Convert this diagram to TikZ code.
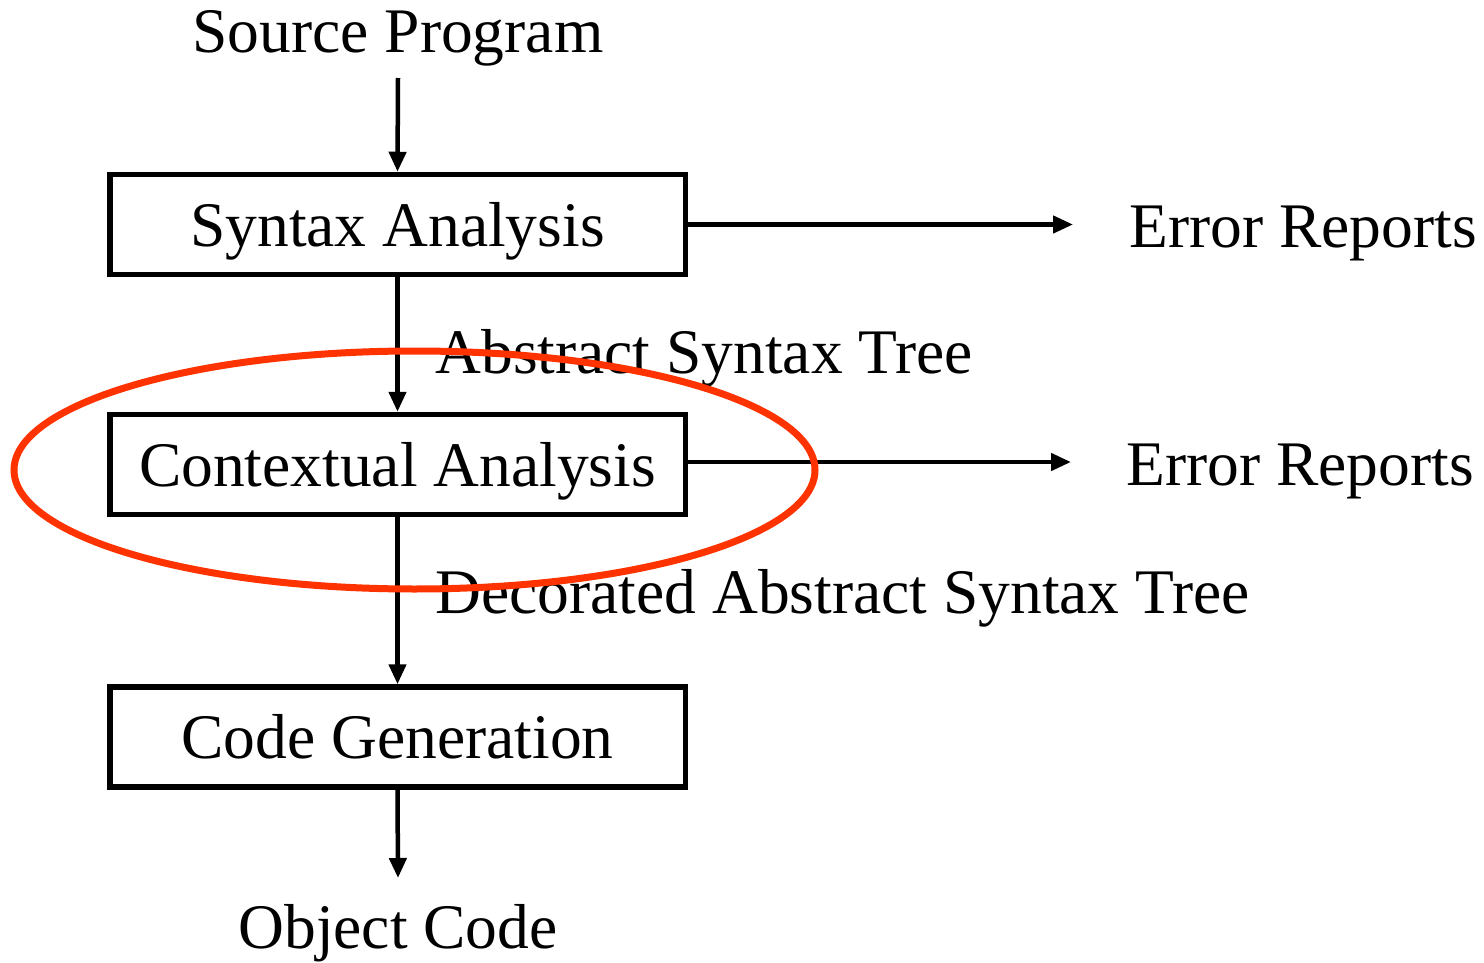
\documentclass[tikz,border=0pt]{standalone}
\usepackage{fontspec}
\setmainfont{Liberation Serif}
\usetikzlibrary{arrows.meta}
\definecolor{markred}{RGB}{255,51,0}
\begin{document}
\begin{tikzpicture}[x=0.5pt,y=-0.5pt,
  font=\fontsize{31.75pt}{38pt}\selectfont,
  phase/.style={draw,line width=2.75pt,inner sep=0pt,minimum width=287.75pt,
    minimum height=50pt,text height=21.5pt,text depth=0pt},
  lbl/.style={inner sep=0pt},
  flow/.style={line width=2.25pt,-{Triangle[length=10pt,width=8.5pt]}}]
\useasboundingbox (0,0) rectangle (1484,963);

% compiler phases
\node[phase] (syn) at (397.5,224.5) {Syntax Analysis};
\node[phase] (ctx) at (397.5,464.5) {Contextual Analysis};
\node[phase] (gen) at (397.5,737) {Code Generation};

% inputs, outputs and intermediate forms
\node[lbl,anchor=base] (src) at (398,53) {Source Program};
\node[lbl,anchor=base] (obj) at (398,948) {Object Code};
\node[lbl,anchor=base west] (err1) at (1129,248) {Error Reports};
\node[lbl,anchor=base west] (err2) at (1126,485) {Error Reports};
\node[lbl,anchor=base west] (ast) at (435,373) {Abstract Syntax Tree};
\node[lbl,anchor=base west] (dast) at (435,613) {Decorated Abstract Syntax Tree};

% free ends of the connectors
\coordinate (srcend) at (398,78);
\coordinate (objend) at (398,878);
\coordinate (err1end) at (1073,224.5);
\coordinate (err2end) at (1071,462);

% connectors
\draw[flow] (srcend) -- (syn.north);
\draw[flow] (syn.south) -- (ctx.north);
\draw[flow] (ctx.south) -- (gen.north);
\draw[flow] (gen.south) -- (objend);
\draw[flow] (syn.east) -- (err1end);
\draw[flow] (ctx.east |- err2end) -- (err2end);

% highlight around the contextual analysis phase
\draw[markred,line width=3.5pt] (414.5,470) ellipse [x radius=400.5,y radius=119];
\end{tikzpicture}
\end{document}
